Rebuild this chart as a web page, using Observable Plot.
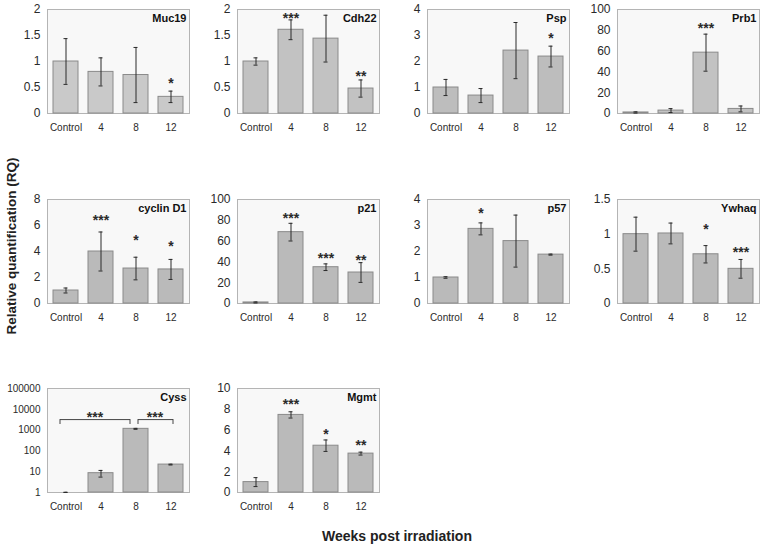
<!DOCTYPE html>
<html><head><meta charset="utf-8">
<script src="https://cdn.jsdelivr.net/npm/d3@7"></script>
<script src="https://cdn.jsdelivr.net/npm/@observablehq/plot@0.6"></script>
<style>
body{margin:0;background:#fff;}
#fig{position:relative;width:766px;height:548px;font-family:"Liberation Sans",Arial,sans-serif;color:#222;}
.panel{position:absolute;}
.ytitle{position:absolute;left:11px;top:246px;transform:translate(-50%,-50%) rotate(-90deg);font-weight:bold;font-size:13.5px;white-space:nowrap;}
.xtitle{position:absolute;left:397px;top:536px;transform:translate(-50%,-50%);font-weight:bold;font-size:14px;white-space:nowrap;}
</style></head>
<body>
<div id="fig">
  <div class="ytitle">Relative quantification (RQ)</div>
  <div class="xtitle">Weeks post irradiation</div>
</div>
<script>
const weeks = ["Control", "4", "8", "12"];

const muc19Mean = [1.0, 0.80, 0.74, 0.32];
const muc19Err  = [0.44, 0.27, 0.53, 0.11];
const muc19Sig  = ["", "", "", "*"];
const muc19SigAt = [null, null, null, 0.65];

const cdh22Mean = [1.0, 1.61, 1.44, 0.48];
const cdh22Err  = [0.07, 0.19, 0.45, 0.165];
const cdh22Sig  = ["", "***", "", "**"];
const cdh22SigAt = [null, 1.91, null, 0.78];

const pspMean = [1.0, 0.69, 2.42, 2.19];
const pspErr  = [0.31, 0.27, 1.08, 0.40];
const pspSig  = ["", "", "", "*"];
const pspSigAt = [null, null, null, 3.04];

const prb1Mean = [1.0, 2.8, 58.5, 4.4];
const prb1Err  = [0.6, 1.9, 17.8, 2.8];
const prb1Sig  = ["", "", "***", ""];
const prb1SigAt = [null, null, 85.8, null];

const ccnd1Mean = [1.0, 4.0, 2.69, 2.62];
const ccnd1Err  = [0.19, 1.5, 0.87, 0.77];
const ccnd1Sig  = ["", "***", "*", "*"];
const ccnd1SigAt = [null, 6.72, 5.13, 4.67];

const p21Mean = [1.0, 68.6, 34.9, 29.8];
const p21Err  = [0.5, 8.5, 3.2, 9.5];
const p21Sig  = ["", "***", "***", "**"];
const p21SigAt = [null, 85.9, 47.4, 45.5];

const p57Mean = [1.0, 2.87, 2.40, 1.88];
const p57Err  = [0.03, 0.23, 1.0, 0.02];
const p57Sig  = ["", "*", "", ""];
const p57SigAt = [null, 3.62, null, null];

const ywhaqMean = [1.0, 1.01, 0.71, 0.50];
const ywhaqErr  = [0.245, 0.15, 0.125, 0.135];
const ywhaqSig  = ["", "", "*", "***"];
const ywhaqSigAt = [null, null, 1.12, 0.79];

const cyssMean = [1.0, 8.5, 1150, 22];
const cyssErr  = [0.03, 3, 60, 1];
const cyssSig  = ["", "", "", ""];
const cyssSigAt = [null, null, null, null];
const cyssBracketFrom = ["Control", "8"];
const cyssBracketTo   = ["8", "12"];
const cyssBracketSig  = ["***", "***"];
const cyssBracketTop  = 3200;
const cyssBracketFoot = 1860;
const cyssBracketSigAt = 6300;

const mgmtMean = [1.0, 7.46, 4.5, 3.74];
const mgmtErr  = [0.43, 0.3, 0.55, 0.14];
const mgmtSig  = ["", "***", "*", "**"];
const mgmtSigAt = [null, 8.89, 5.93, 4.86];

const linTicks = {
  t2: [0, 0.5, 1, 1.5, 2],
  t4: [0, 1, 2, 3, 4],
  t100: [0, 20, 40, 60, 80, 100],
  t8: [0, 2, 4, 6, 8],
  t15: [0, 0.5, 1, 1.5],
  t10: [0, 2, 4, 6, 8, 10],
  log: [1, 10, 100, 1000, 10000, 100000]
};

const panels = [
  {name: "Muc19", mean: muc19Mean, err: muc19Err, sig: muc19Sig, at: muc19SigAt, domain: [0, 2], ticks: linTicks.t2, col: 0, row: 0, fill: "#c9c9c9"},
  {name: "Cdh22", mean: cdh22Mean, err: cdh22Err, sig: cdh22Sig, at: cdh22SigAt, domain: [0, 2], ticks: linTicks.t2, col: 1, row: 0, fill: "#c2c2c2"},
  {name: "Psp", mean: pspMean, err: pspErr, sig: pspSig, at: pspSigAt, domain: [0, 4], ticks: linTicks.t4, col: 2, row: 0, fill: "#bdbdbd"},
  {name: "Prb1", mean: prb1Mean, err: prb1Err, sig: prb1Sig, at: prb1SigAt, domain: [0, 100], ticks: linTicks.t100, col: 3, row: 0, fill: "#c2c2c2"},
  {name: "cyclin D1", mean: ccnd1Mean, err: ccnd1Err, sig: ccnd1Sig, at: ccnd1SigAt, domain: [0, 8], ticks: linTicks.t8, col: 0, row: 1, fill: "#bababa"},
  {name: "p21", mean: p21Mean, err: p21Err, sig: p21Sig, at: p21SigAt, domain: [0, 100], ticks: linTicks.t100, col: 1, row: 1, fill: "#bababa"},
  {name: "p57", mean: p57Mean, err: p57Err, sig: p57Sig, at: p57SigAt, domain: [0, 4], ticks: linTicks.t4, col: 2, row: 1, fill: "#bababa"},
  {name: "Ywhaq", mean: ywhaqMean, err: ywhaqErr, sig: ywhaqSig, at: ywhaqSigAt, domain: [0, 1.5], ticks: linTicks.t15, col: 3, row: 1, fill: "#bababa"},
  {name: "Cyss", mean: cyssMean, err: cyssErr, sig: cyssSig, at: cyssSigAt, domain: [1, 100000], ticks: linTicks.log, col: 0, row: 2, fill: "#bababa", log: true},
  {name: "Mgmt", mean: mgmtMean, err: mgmtErr, sig: mgmtSig, at: mgmtSigAt, domain: [0, 10], ticks: linTicks.t10, col: 1, row: 2, fill: "#bababa"}
];

const rowTops = [0, 190, 379];
const fig = document.getElementById("fig");
const ink = "#2a2a2a";
const starOpts = {fontSize: 14, fontWeight: "bold", dy: 4, fill: ink};

for (const p of panels) {
  const rows = weeks.map((w, i) => ({
    week: w, v: p.mean[i], lo: p.mean[i] - p.err[i], hi: p.mean[i] + p.err[i], sig: p.sig[i], at: p.at[i]
  }));
  const marks = [
    Plot.frame({fill: "#f8f8f8", stroke: "#b4b4b4"}),
    Plot.axisX({tickSize: 0, tickPadding: 10, fontSize: 10, label: null}),
    Plot.axisY({ticks: p.ticks, tickFormat: d => String(d), tickSize: 0, tickPadding: 7, fontSize: p.log ? 10 : 12, label: null}),
    Plot.barY(rows, {x: "week", y1: p.log ? 1 : 0, y2: "v", fill: p.fill, stroke: "#8a8a8a", strokeWidth: 1}),
    Plot.ruleX(rows, {x: "week", y1: "lo", y2: "hi", stroke: ink, strokeWidth: 1}),
    Plot.tickY(rows, {x: "week", y: "lo", stroke: ink, insetLeft: 10.5, insetRight: 10.5}),
    Plot.tickY(rows, {x: "week", y: "hi", stroke: ink, insetLeft: 10.5, insetRight: 10.5}),
    Plot.text(rows.filter(d => d.sig), {x: "week", y: "at", text: "sig", ...starOpts}),
    Plot.text([p.name], {frameAnchor: "top-right", text: d => d, textAnchor: "end", lineAnchor: "top", dx: -3, dy: 5, fontWeight: "bold", fontSize: 11, fill: "#111"})
  ];
  if (p.log) {
    const brackets = cyssBracketFrom.map((f, i) => ({from: f, to: cyssBracketTo[i], sig: cyssBracketSig[i]}));
    const offs = [-6, 2];
    brackets.forEach((b, i) => {
      marks.push(Plot.link([b], {x1: "from", x2: "to", y1: () => cyssBracketTop, y2: () => cyssBracketTop, dx: offs[i], stroke: "#444"}));
      marks.push(Plot.ruleX([b.from, b.to], {x: d => d, y1: cyssBracketFoot, y2: cyssBracketTop, dx: offs[i], stroke: "#444"}));
    });
    marks.push(Plot.text([brackets[0]], {x: () => "4", y: () => cyssBracketSigAt, text: "sig", ...starOpts, dx: -6}));
    marks.push(Plot.text([brackets[1]], {x: () => "12", y: () => cyssBracketSigAt, text: "sig", ...starOpts, dx: -16}));
  }
  const chart = Plot.plot({
    width: 190, height: 138,
    marginLeft: 47, marginRight: 1, marginTop: 9, marginBottom: 25,
    x: {domain: weeks, paddingInner: 0.28, paddingOuter: 0.14, axis: null},
    y: {type: p.log ? "log" : "linear", domain: p.domain, clamp: true, axis: null},
    style: {fontFamily: "'Liberation Sans', Arial, sans-serif", fontSize: "12px", color: ink, background: "transparent", overflow: "visible"},
    marks
  });
  const div = document.createElement("div");
  div.className = "panel";
  div.style.left = (p.col * 190) + "px";
  div.style.top = rowTops[p.row] + "px";
  div.appendChild(chart);
  fig.appendChild(div);
}
</script>
</body></html>
